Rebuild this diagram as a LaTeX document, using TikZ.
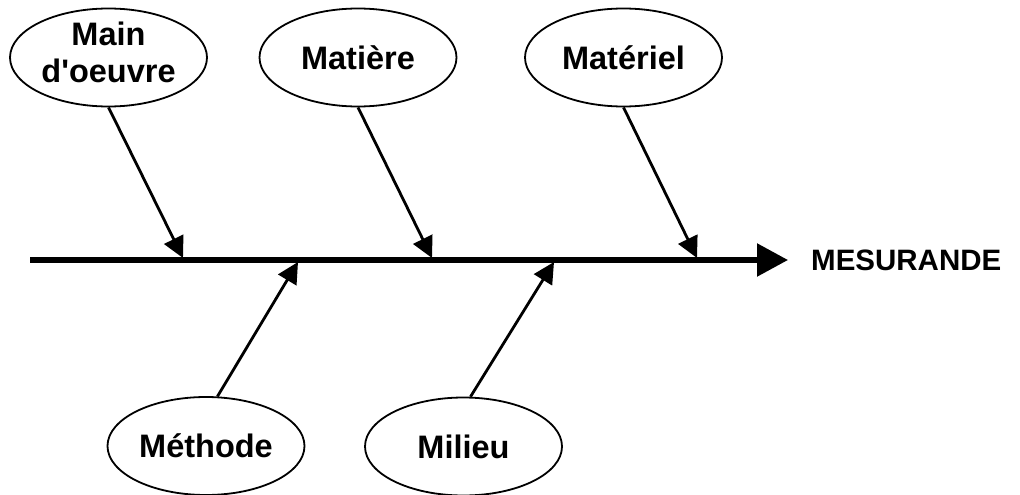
\documentclass[tikz,border=0pt]{standalone}
\usepackage{fontspec}
\setmainfont{Liberation Sans}[Ligatures=TeXOff]
\usetikzlibrary{arrows.meta,shapes.geometric}
\begin{document}
\begin{tikzpicture}[x=1pt,y=-1pt,
  cause/.style={draw=black, line width=1.8pt, ellipse, minimum width=197pt, minimum height=98pt,
    inner sep=0pt, font=\fontsize{32.5}{37}\selectfont\bfseries, align=center,
    text height=23.3pt, text depth=0pt},
  lbl/.style={inner sep=0pt, font=\fontsize{32.5}{37}\selectfont\bfseries, align=center},
  branch/.style={line width=2.8pt, -{Triangle[length=21pt,width=21pt]}},
  spine/.style={line width=5.5pt, -{Triangle[length=31pt,width=32pt]}}]
\useasboundingbox (0,0) rectangle (1020,495);
% ellipses
\node[cause] (mo) at (108.5,57.5) {};
\node[lbl] (mol) at (108.5,52) {Main\\d'oeuvre};
\node[cause] (mat) at (358,57.5) {Matière};
\node[cause] (mtl) at (623.5,57.5) {Matériel};
\node[cause] (met) at (206,446) {Méthode};
\node[cause] (mil) at (463.5,446.5) {Milieu};
% spine
\coordinate (s0) at (30,260);
\node[anchor=west, inner sep=0pt, font=\fontsize{29.5}{34}\selectfont\bfseries] (res) at (811,260) {MESURANDE};
\coordinate (s1) at (788,260);
\draw[spine] (s0) -- (s1);
% targets on the spine
\coordinate (t1) at (183,258);
\coordinate (t2) at (432,258);
\coordinate (t3) at (697,258);
\coordinate (t4) at (298,262);
\coordinate (t5) at (554,262);
\draw[branch] (mo.south) -- (t1);
\draw[branch] (mat.south) -- (t2);
\draw[branch] (mtl.south) -- (t3);
\draw[branch] (met.77) -- (t4);
\draw[branch] (mil.82) -- (t5);
\end{tikzpicture}
\end{document}
